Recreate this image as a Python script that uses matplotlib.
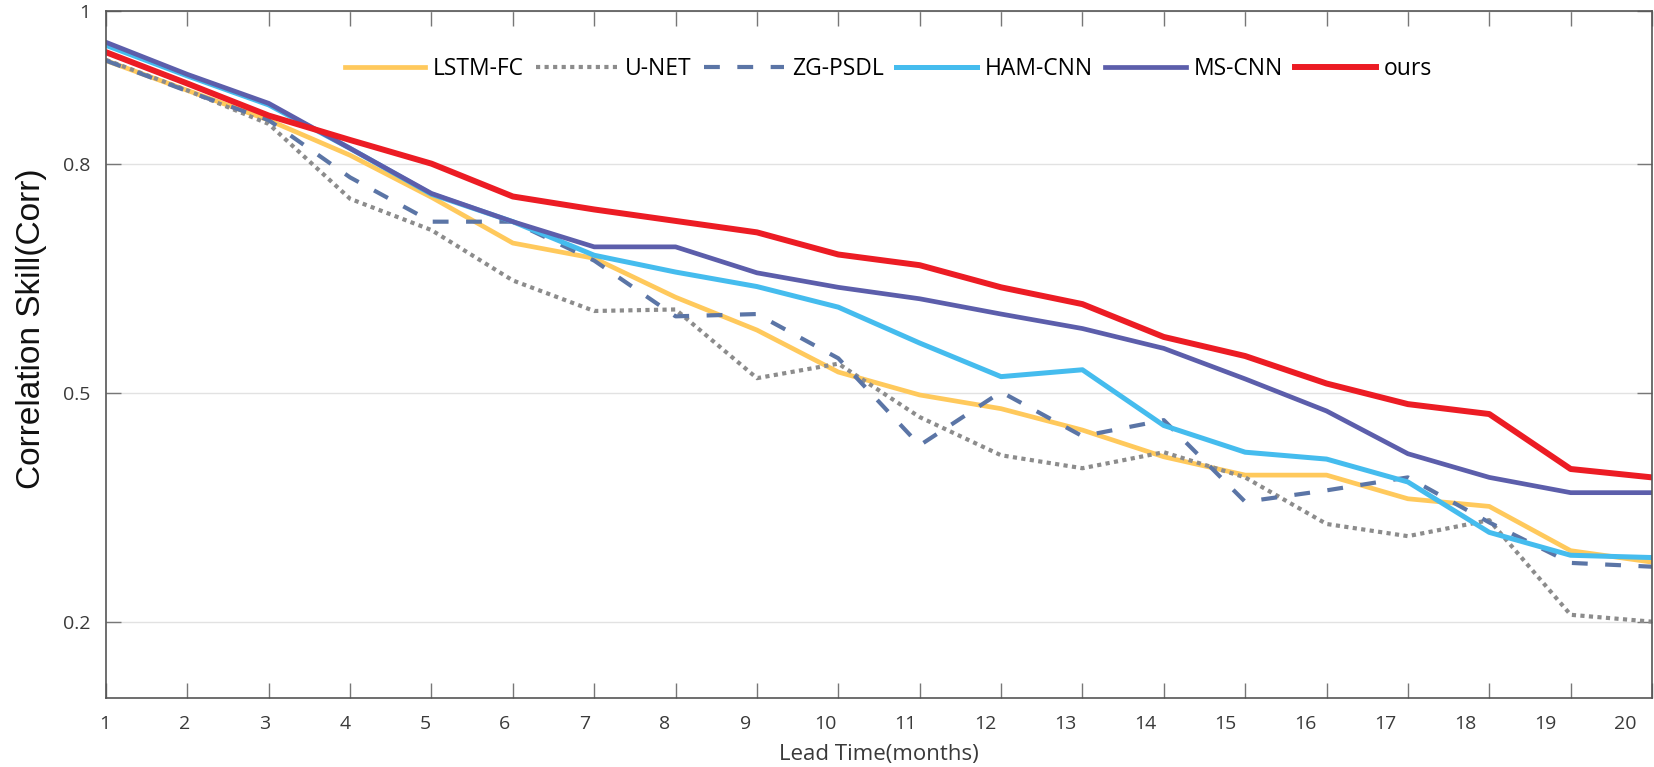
import matplotlib.pyplot as plt
import matplotlib.transforms as mtransforms
import numpy as np

# Lead time (months)
lead = np.arange(1, 21)

# Correlation skill of each model
lstm_fc = [0.935, 0.896, 0.857, 0.811, 0.756, 0.696, 0.676, 0.625, 0.582, 0.527,
           0.497, 0.479, 0.451, 0.416, 0.392, 0.392, 0.361, 0.351, 0.293, 0.278]
u_net = [0.936, 0.896, 0.852, 0.754, 0.713, 0.647, 0.607, 0.609, 0.519, 0.538,
         0.468, 0.418, 0.401, 0.422, 0.389, 0.328, 0.312, 0.333, 0.209, 0.200]
zg_psdl = [0.935, 0.895, 0.857, 0.782, 0.724, 0.724, 0.673, 0.600, 0.603, 0.545,
           0.431, 0.501, 0.443, 0.464, 0.357, 0.372, 0.389, 0.330, 0.277, 0.272]
ham_cnn = [0.955, 0.915, 0.877, 0.820, 0.760, 0.724, 0.680, 0.658, 0.639, 0.612,
           0.565, 0.521, 0.530, 0.457, 0.422, 0.413, 0.383, 0.317, 0.287, 0.284]
ms_cnn = [0.959, 0.917, 0.879, 0.820, 0.761, 0.724, 0.691, 0.691, 0.657, 0.638,
          0.623, 0.603, 0.584, 0.558, 0.518, 0.476, 0.420, 0.389, 0.369, 0.369]
ours = [0.946, 0.905, 0.863, 0.831, 0.800, 0.757, 0.740, 0.725, 0.710, 0.681,
        0.667, 0.638, 0.616, 0.573, 0.548, 0.512, 0.485, 0.472, 0.400, 0.389]

y_ticks = [0.2, 0.5, 0.8, 1.0]
y_ticklabels = ['0.2', '0.5', '0.8', '1']

fig = plt.figure(figsize=(16.54, 7.67), dpi=100)
ax = fig.add_axes([106 / 1654, 69 / 767, 1546 / 1654, 687 / 767])

# Curves
ax.plot(lead, lstm_fc, color='#FFC95C', lw=3.4, label='LSTM-FC')
ax.plot(lead, u_net, color='#8C8C8C', lw=3.0, linestyle=(0, (1, 1.05)),
        dash_capstyle='butt', label='U-NET')
ax.plot(lead, zg_psdl, color='#5B75A6', lw=3.0, linestyle=(0, (3.8, 4.2)),
        dash_capstyle='butt', label='ZG-PSDL')
ax.plot(lead, ham_cnn, color='#45BCEE', lw=3.6, label='HAM-CNN')
ax.plot(lead, ms_cnn, color='#5C5EAB', lw=3.4, label='MS-CNN')
ax.plot(lead, ours, color='#EC1C24', lw=4.3, label='ours')

# Axes
ax.set_xlim(1, 20)
ax.set_ylim(0.1, 1.0)
ax.set_xticks(lead)
ax.set_yticks(y_ticks)
ax.set_yticklabels(y_ticklabels)

ax.tick_params(direction='in', length=11, width=1, color='#777777',
               top=True, right=True)
ax.tick_params(axis='x', pad=12)
ax.tick_params(axis='y', pad=11)

for lab in ax.get_xticklabels() + ax.get_yticklabels():
    lab.set_fontfamily('Open Sans')
    lab.set_fontsize(14)
    lab.set_color('#3a3a3a')

# the month labels in the original creep slightly to the left
for i, tick in enumerate(ax.xaxis.get_major_ticks()):
    shift = mtransforms.ScaledTranslation(-0.95 * (i + 1) / 72, 0, fig.dpi_scale_trans)
    tick.label1.set_transform(tick.label1.get_transform() + shift)

ax.yaxis.grid(True, color='#e2e2e2', lw=1)
ax.set_axisbelow(True)
for s in ax.spines.values():
    s.set_color('#555555')
    s.set_linewidth(1.2)

ax.set_xlabel('Lead Time(months)', family='Open Sans', fontsize=16,
              color='#3a3a3a', labelpad=8)
ax.set_ylabel('Correlation Skill(Corr)', family='Liberation Sans', fontsize=24,
              color='#111111', labelpad=12)
ax.yaxis.label.set_y(0.537)

ax.legend(ncol=6, loc='center', bbox_to_anchor=(0.506, 0.915), frameon=False,
          prop={'family': 'Open Sans', 'size': 16.5}, handlelength=3.5,
          handletextpad=0.35, columnspacing=0.55)

plt.savefig('out.png', dpi=100)
